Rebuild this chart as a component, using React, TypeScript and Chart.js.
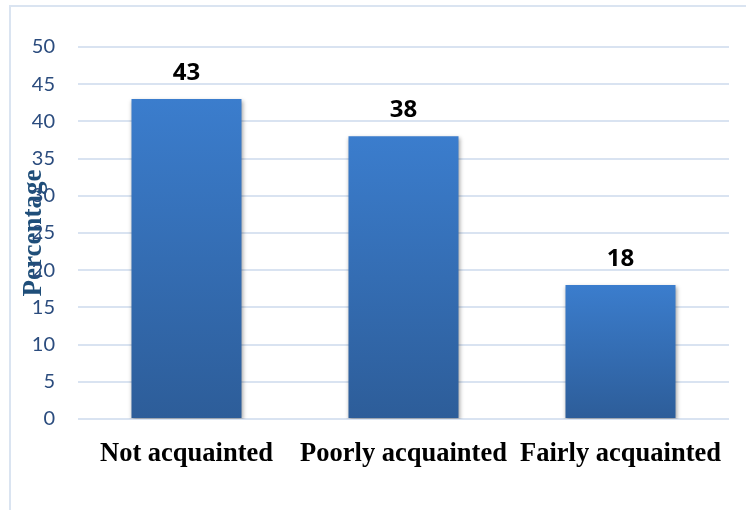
import React, { useEffect, useRef } from "react";
import { Chart, registerables } from "chart.js";

Chart.register(...registerables);

const categories = ["Not acquainted", "Poorly acquainted", "Fairly acquainted"];
const percentages = [43, 38, 18];
const yTicks = [0, 5, 10, 15, 20, 25, 30, 35, 40, 45, 50];

const sansFont = "Lato, 'Open Sans', sans-serif";
const labelFont = "'Open Sans', 'Liberation Sans', sans-serif";
const serifFont = "'Liberation Serif', 'Times New Roman', serif";

const decorPlugin = {
  id: "decor",
  beforeDraw(chart: any) {
    const { ctx, width, height } = chart;
    ctx.save();
    ctx.strokeStyle = "#DAE4F1";
    ctx.lineWidth = 2;
    ctx.beginPath();
    ctx.moveTo(10, height + 5);
    ctx.lineTo(10, 6);
    ctx.lineTo(width + 5, 6);
    ctx.stroke();
    ctx.restore();
  },
  beforeDatasetsDraw(chart: any) {
    const ctx = chart.ctx;
    ctx.save();
    ctx.shadowColor = "rgba(0,0,0,0.35)";
    ctx.shadowBlur = 4;
    ctx.shadowOffsetX = 1;
    ctx.shadowOffsetY = 2;
  },
  afterDatasetsDraw(chart: any) {
    const ctx = chart.ctx;
    ctx.restore();
    const meta = chart.getDatasetMeta(0);
    ctx.save();
    ctx.fillStyle = "#000000";
    ctx.font = `bold 24px ${labelFont}`;
    ctx.textAlign = "center";
    ctx.textBaseline = "alphabetic";
    meta.data.forEach((bar: any, i: number) => {
      ctx.fillText(String(percentages[i]), bar.x, bar.y - 19);
    });
    ctx.restore();
  },
};

export default function App() {
  const canvasRef = useRef<HTMLCanvasElement | null>(null);

  useEffect(() => {
    if (!canvasRef.current) return;
    const chart = new Chart(canvasRef.current, {
      type: "bar",
      data: {
        labels: categories,
        datasets: [
          {
            data: percentages,
            backgroundColor: (context: any) => {
              const c = context.chart;
              const yScale = c.scales?.y;
              if (!yScale || context.raw === undefined) return "#3570B8";
              const top = yScale.getPixelForValue(context.raw);
              const bottom = yScale.getPixelForValue(0);
              if (!isFinite(top) || !isFinite(bottom) || top === bottom) return "#3570B8";
              const g = c.ctx.createLinearGradient(0, top, 0, bottom);
              g.addColorStop(0, "#3B7DCD");
              g.addColorStop(1, "#2D5D99");
              return g;
            },
            borderWidth: 0,
            categoryPercentage: 1,
            barPercentage: 0.507,
          },
        ],
      },
      options: {
        responsive: false,
        maintainAspectRatio: false,
        animation: false,
        layout: { padding: { left: 0, top: 47, right: 17, bottom: 0 } },
        plugins: {
          legend: { display: false },
          tooltip: { enabled: false },
          title: { display: false },
        },
        scales: {
          x: {
            grid: { display: false, drawTicks: false },
            border: { display: false },
            ticks: {
              color: "#000000",
              font: { family: serifFont, size: 26.5, weight: "bold" },
              padding: 19,
              maxRotation: 0,
              autoSkip: false,
            },
            afterFit: (scale: any) => {
              scale.height = 510 - 419;
            },
          },
          y: {
            min: 0,
            max: 50,
            afterBuildTicks: (scale: any) => {
              scale.ticks = yTicks.map((v) => ({ value: v }));
            },
            grid: { color: "#D9E3F1", lineWidth: 2, drawTicks: false },
            border: { display: false },
            ticks: {
              color: "#2B4C7E",
              font: { family: sansFont, size: 20 },
              padding: 23,
            },
            title: {
              display: true,
              text: "Percentage",
              color: "#1F4E79",
              font: { family: serifFont, size: 27, weight: "bold" },
              padding: { top: 18, bottom: 0 },
            },
            afterFit: (scale: any) => {
              scale.width = 78;
            },
          },
        },
      },
      plugins: [decorPlugin],
    });
    return () => chart.destroy();
  }, []);

  return (
    <div style={{ position: "fixed", left: 0, top: 0, width: 746, height: 510, background: "#ffffff" }}>
      <canvas ref={canvasRef} width={746} height={510} style={{ display: "block" }} />
    </div>
  );
}
